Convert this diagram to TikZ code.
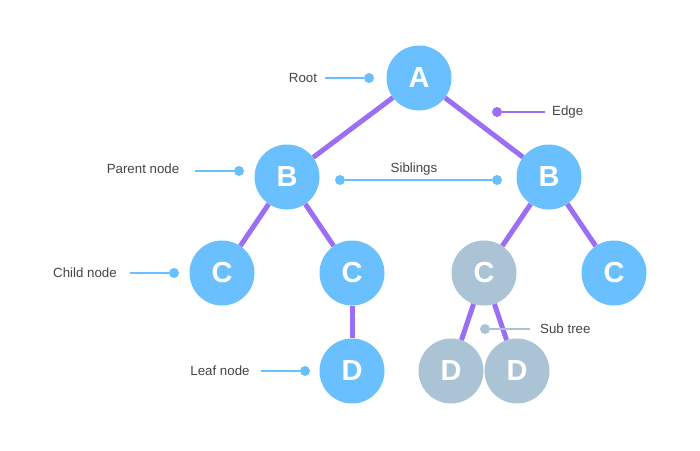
\documentclass[tikz,border=0pt]{standalone}
\usepackage{fontspec}
\setmainfont{Liberation Sans}
\usetikzlibrary{positioning}

\definecolor{nodeblue}{HTML}{6AC0FE}
\definecolor{subgrey}{HTML}{AAC4D6}
\definecolor{edgepurple}{HTML}{9B6EF5}
\definecolor{labelgrey}{HTML}{444444}

\begin{document}
\begin{tikzpicture}[x=1pt, y=-1pt,
  tnode/.style={circle, fill=nodeblue, minimum size=65pt, inner sep=0pt, text=white,
    font=\fontsize{29}{29}\selectfont\bfseries},
  snode/.style={tnode, fill=subgrey},
  edge/.style={draw=edgepurple, line width=5pt},
  lbl/.style={text=labelgrey, font=\fontsize{13.3}{13.3}\selectfont, inner sep=0pt},
  pointer/.style={draw=#1, line width=1.8pt},
  dot/.style={circle, fill=#1, minimum size=10pt, inner sep=0pt}]

\useasboundingbox (0, 0) rectangle (700, 450);

\def \yroot{78}
\def \ypar{177}
\def \ychi{273}
\def \yleaf{371}

% tree nodes from top to bottom
\node[tnode] (A)  at (419, \yroot) {A};
\node[tnode] (Bl) at (287, \ypar)  {B};
\node[tnode] (Br) at (549, \ypar)  {B};
\node[tnode] (Ca) at (222, \ychi)  {C};
\node[tnode] (Cb) at (352, \ychi)  {C};
\node[snode] (Cc) at (484, \ychi)  {C};
\node[tnode] (Cd) at (614, \ychi)  {C};
\node[tnode] (Da) at (352, \yleaf) {D};
\node[snode] (Db) at (451, \yleaf) {D};
\node[snode] (Dc) at (517, \yleaf) {D};

% edges
\draw[edge] (A)  -- (Bl);
\draw[edge] (A)  -- (Br);
\draw[edge] (Bl) -- (Ca);
\draw[edge] (Bl) -- (Cb);
\draw[edge] (Cb) -- (Da);
\draw[edge] (Br) -- (Cc);
\draw[edge] (Br) -- (Cd);
\draw[edge] (Cc) -- (Db);
\draw[edge] (Cc) -- (Dc);

% dots
\node[dot=nodeblue]   (rootdot)  at (369, \yroot) {};
\node[dot=edgepurple] (edgedot)  at (497, 112)    {};
\node[dot=nodeblue]   (pardot)   at (239, 171)    {};
\node[dot=nodeblue]   (sibdota)  at (340, 180)    {};
\node[dot=nodeblue]   (sibdotb)  at (497, 180)    {};
\node[dot=nodeblue]   (chidot)   at (174, \ychi)  {};
\node[dot=nodeblue]   (leafdot)  at (305, \yleaf) {};
\node[dot=subgrey]    (subdot)   at (485, 329)    {};

% free ends of the pointers
\coordinate (rootend) at (325, \yroot);
\coordinate (edgeend) at (545, 112);
\coordinate (parend)  at (195, 171);
\coordinate (chiend)  at (130, \ychi);
\coordinate (leafend) at (261, \yleaf);
\coordinate (subend)  at (530, 329);

% text
\node[lbl] (rootlbl) at (303, \yroot)           {Root};
\node[lbl, anchor=west] (edgelbl) at (552, 112) {Edge};
\node[lbl] (parlbl)  at (143, 169)              {Parent node};
\node[lbl] (siblbl)  at (414, 169)              {Siblings};
\node[lbl] (chilbl)  at (85, \ychi)             {Child node};
\node[lbl] (leaflbl) at (220, \yleaf)           {Leaf node};
\node[lbl, anchor=west] (sublbl) at (540, 329)  {Sub tree};

% pointers
\draw[pointer=nodeblue]   (rootend) -- (rootdot);
\draw[pointer=edgepurple] (edgedot) -- (edgeend);
\draw[pointer=nodeblue]   (parend)  -- (pardot);
\draw[pointer=nodeblue]   (sibdota) -- (sibdotb);
\draw[pointer=nodeblue]   (chiend)  -- (chidot);
\draw[pointer=nodeblue]   (leafend) -- (leafdot);
\draw[pointer=subgrey]    (subdot)  -- (subend);

\end{tikzpicture}
\end{document}
